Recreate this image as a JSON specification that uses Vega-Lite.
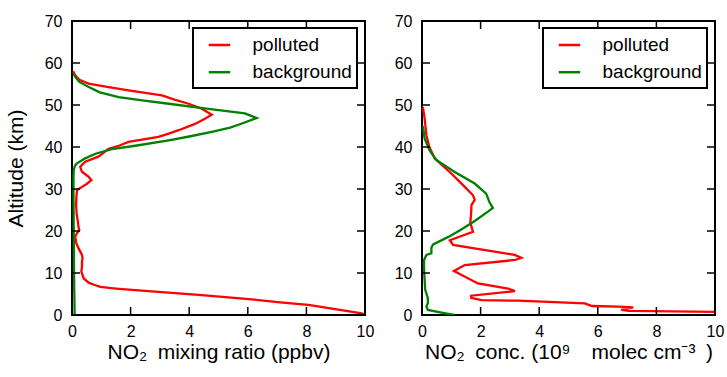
{
  "$schema": "https://vega.github.io/schema/vega-lite/v6.json",
  "padding": {"left": 4, "top": 12, "right": 2, "bottom": 5},
  "background": "white",
  "config": {
    "font": "Liberation Sans",
    "view": {"stroke": "black", "strokeWidth": 2},
    "axis": {
      "grid": false,
      "domain": false,
      "ticks": false,
      "labelFlush": false,
      "labelFontSize": 16,
      "labelColor": "black",
      "labelFont": "Liberation Sans",
      "titleFont": "Liberation Sans",
      "titleFontSize": 21,
      "titleFontWeight": "normal",
      "titleColor": "black"
    },
    "axisX": {"labelPadding": 8, "titlePadding": 2},
    "axisY": {"labelPadding": 10, "titlePadding": 18},
    "legend": {
      "orient": "none",
      "legendX": 121,
      "legendY": 7,
      "strokeColor": "black",
      "strokeWidth": 2,
      "fillColor": "white",
      "padding": 5,
      "labelFont": "Liberation Sans",
      "labelFontSize": 19,
      "labelColor": "black",
      "symbolType": "stroke",
      "symbolSize": 460,
      "symbolStrokeWidth": 2.5,
      "labelOffset": 21,
      "rowPadding": 5.2,
      "symbolOffset": 9.5
    }
  },
  "datasets": {
    "xticks": [{"v": 0}, {"v": 2}, {"v": 4}, {"v": 6}, {"v": 8}, {"v": 10}],
    "yticks": [{"v": 0}, {"v": 10}, {"v": 20}, {"v": 30}, {"v": 40}, {"v": 50}, {"v": 60}, {"v": 70}],
    "mix": [
      {"profile": "polluted", "alt": 0, "val": 10.0},
      {"profile": "polluted", "alt": 0.4, "val": 9.89},
      {"profile": "polluted", "alt": 2.4, "val": 8.07},
      {"profile": "polluted", "alt": 3.0, "val": 7.1},
      {"profile": "polluted", "alt": 3.7, "val": 6.14},
      {"profile": "polluted", "alt": 4.75, "val": 4.43},
      {"profile": "polluted", "alt": 5.9, "val": 2.16},
      {"profile": "polluted", "alt": 6.3, "val": 1.5},
      {"profile": "polluted", "alt": 6.7, "val": 0.97},
      {"profile": "polluted", "alt": 7.2, "val": 0.75},
      {"profile": "polluted", "alt": 7.7, "val": 0.57},
      {"profile": "polluted", "alt": 8.7, "val": 0.4},
      {"profile": "polluted", "alt": 10.3, "val": 0.32},
      {"profile": "polluted", "alt": 11.5, "val": 0.34},
      {"profile": "polluted", "alt": 12.7, "val": 0.34},
      {"profile": "polluted", "alt": 13.5, "val": 0.36},
      {"profile": "polluted", "alt": 14.3, "val": 0.34},
      {"profile": "polluted", "alt": 15.8, "val": 0.23},
      {"profile": "polluted", "alt": 17.0, "val": 0.15},
      {"profile": "polluted", "alt": 18.6, "val": 0.11},
      {"profile": "polluted", "alt": 19.5, "val": 0.17},
      {"profile": "polluted", "alt": 20.2, "val": 0.25},
      {"profile": "polluted", "alt": 21.0, "val": 0.22},
      {"profile": "polluted", "alt": 22.2, "val": 0.2},
      {"profile": "polluted", "alt": 24.0, "val": 0.16},
      {"profile": "polluted", "alt": 26.2, "val": 0.14},
      {"profile": "polluted", "alt": 28.0, "val": 0.15},
      {"profile": "polluted", "alt": 29.7, "val": 0.17},
      {"profile": "polluted", "alt": 30.5, "val": 0.34},
      {"profile": "polluted", "alt": 31.2, "val": 0.5},
      {"profile": "polluted", "alt": 32.1, "val": 0.66},
      {"profile": "polluted", "alt": 32.9, "val": 0.57},
      {"profile": "polluted", "alt": 34.1, "val": 0.34},
      {"profile": "polluted", "alt": 35.3, "val": 0.28},
      {"profile": "polluted", "alt": 36.5, "val": 0.45},
      {"profile": "polluted", "alt": 37.7, "val": 0.9},
      {"profile": "polluted", "alt": 38.5, "val": 1.05},
      {"profile": "polluted", "alt": 39.6, "val": 1.25},
      {"profile": "polluted", "alt": 40.3, "val": 1.6},
      {"profile": "polluted", "alt": 41.2, "val": 1.93},
      {"profile": "polluted", "alt": 42.4, "val": 2.95},
      {"profile": "polluted", "alt": 43.2, "val": 3.3},
      {"profile": "polluted", "alt": 44.0, "val": 3.64},
      {"profile": "polluted", "alt": 45.5, "val": 4.2},
      {"profile": "polluted", "alt": 46.8, "val": 4.55},
      {"profile": "polluted", "alt": 47.7, "val": 4.77},
      {"profile": "polluted", "alt": 48.4, "val": 4.6},
      {"profile": "polluted", "alt": 49.1, "val": 4.43},
      {"profile": "polluted", "alt": 50.3, "val": 3.98},
      {"profile": "polluted", "alt": 51.3, "val": 3.5},
      {"profile": "polluted", "alt": 52.3, "val": 3.07},
      {"profile": "polluted", "alt": 53.5, "val": 1.93},
      {"profile": "polluted", "alt": 54.3, "val": 1.2},
      {"profile": "polluted", "alt": 55.1, "val": 0.57},
      {"profile": "polluted", "alt": 56.0, "val": 0.25},
      {"profile": "polluted", "alt": 57.1, "val": 0.11},
      {"profile": "polluted", "alt": 58.0, "val": 0.04},
      {"profile": "background", "alt": 0, "val": 0.09},
      {"profile": "background", "alt": 5, "val": 0.08},
      {"profile": "background", "alt": 10, "val": 0.07},
      {"profile": "background", "alt": 20, "val": 0.06},
      {"profile": "background", "alt": 30, "val": 0.05},
      {"profile": "background", "alt": 33, "val": 0.05},
      {"profile": "background", "alt": 34.6, "val": 0.06},
      {"profile": "background", "alt": 35.5, "val": 0.1},
      {"profile": "background", "alt": 36.1, "val": 0.17},
      {"profile": "background", "alt": 37.3, "val": 0.45},
      {"profile": "background", "alt": 38.4, "val": 0.8},
      {"profile": "background", "alt": 39.5, "val": 1.36},
      {"profile": "background", "alt": 40.3, "val": 2.16},
      {"profile": "background", "alt": 41.6, "val": 3.3},
      {"profile": "background", "alt": 42.5, "val": 4.0},
      {"profile": "background", "alt": 43.6, "val": 4.77},
      {"profile": "background", "alt": 44.6, "val": 5.4},
      {"profile": "background", "alt": 45.6, "val": 5.8},
      {"profile": "background", "alt": 46.9, "val": 6.3},
      {"profile": "background", "alt": 48.0, "val": 5.9},
      {"profile": "background", "alt": 49.1, "val": 4.66},
      {"profile": "background", "alt": 50.3, "val": 3.3},
      {"profile": "background", "alt": 51.1, "val": 2.4},
      {"profile": "background", "alt": 51.9, "val": 1.59},
      {"profile": "background", "alt": 53.0, "val": 0.95},
      {"profile": "background", "alt": 54.3, "val": 0.57},
      {"profile": "background", "alt": 55.5, "val": 0.25},
      {"profile": "background", "alt": 56.7, "val": 0.11},
      {"profile": "background", "alt": 57.5, "val": 0.05}
    ],
    "conc": [
      {"profile": "polluted", "alt": 0.75, "val": 10.0},
      {"profile": "polluted", "alt": 1.0, "val": 7.05},
      {"profile": "polluted", "alt": 1.2, "val": 6.8},
      {"profile": "polluted", "alt": 1.8, "val": 7.21},
      {"profile": "polluted", "alt": 1.97, "val": 6.7},
      {"profile": "polluted", "alt": 2.14, "val": 5.8},
      {"profile": "polluted", "alt": 2.77, "val": 5.56},
      {"profile": "polluted", "alt": 3.4, "val": 3.28},
      {"profile": "polluted", "alt": 3.56, "val": 2.03},
      {"profile": "polluted", "alt": 4.1, "val": 1.68},
      {"profile": "polluted", "alt": 4.6, "val": 1.68},
      {"profile": "polluted", "alt": 5.7, "val": 3.17},
      {"profile": "polluted", "alt": 6.3, "val": 2.94},
      {"profile": "polluted", "alt": 7.5, "val": 1.91},
      {"profile": "polluted", "alt": 10.5, "val": 1.09},
      {"profile": "polluted", "alt": 11.9, "val": 1.46},
      {"profile": "polluted", "alt": 13.1, "val": 3.17},
      {"profile": "polluted", "alt": 13.6, "val": 3.39},
      {"profile": "polluted", "alt": 14.3, "val": 3.17},
      {"profile": "polluted", "alt": 16.7, "val": 1.06},
      {"profile": "polluted", "alt": 17.8, "val": 0.95},
      {"profile": "polluted", "alt": 19.8, "val": 1.74},
      {"profile": "polluted", "alt": 22.0, "val": 1.65},
      {"profile": "polluted", "alt": 24.6, "val": 1.68},
      {"profile": "polluted", "alt": 26.2, "val": 1.69},
      {"profile": "polluted", "alt": 27.4, "val": 1.8},
      {"profile": "polluted", "alt": 28.5, "val": 1.74},
      {"profile": "polluted", "alt": 30.5, "val": 1.46},
      {"profile": "polluted", "alt": 33.7, "val": 1.0},
      {"profile": "polluted", "alt": 37.3, "val": 0.43},
      {"profile": "polluted", "alt": 40.0, "val": 0.25},
      {"profile": "polluted", "alt": 42.8, "val": 0.15},
      {"profile": "polluted", "alt": 46.8, "val": 0.09},
      {"profile": "polluted", "alt": 49.5, "val": 0.03},
      {"profile": "background", "alt": 0, "val": 1.12},
      {"profile": "background", "alt": 0.4, "val": 0.8},
      {"profile": "background", "alt": 1.2, "val": 0.2},
      {"profile": "background", "alt": 2.0, "val": 0.15},
      {"profile": "background", "alt": 2.8, "val": 0.2},
      {"profile": "background", "alt": 4.0, "val": 0.2},
      {"profile": "background", "alt": 6.0, "val": 0.11},
      {"profile": "background", "alt": 8.3, "val": 0.09},
      {"profile": "background", "alt": 11.1, "val": 0.07},
      {"profile": "background", "alt": 13.1, "val": 0.07},
      {"profile": "background", "alt": 14.3, "val": 0.15},
      {"profile": "background", "alt": 14.7, "val": 0.32},
      {"profile": "background", "alt": 16.0, "val": 0.32},
      {"profile": "background", "alt": 16.8, "val": 0.38},
      {"profile": "background", "alt": 18.6, "val": 0.9},
      {"profile": "background", "alt": 20.2, "val": 1.3},
      {"profile": "background", "alt": 22.4, "val": 1.8},
      {"profile": "background", "alt": 24.6, "val": 2.25},
      {"profile": "background", "alt": 25.5, "val": 2.42},
      {"profile": "background", "alt": 26.9, "val": 2.3},
      {"profile": "background", "alt": 28.9, "val": 2.19},
      {"profile": "background", "alt": 31.3, "val": 1.8},
      {"profile": "background", "alt": 34.1, "val": 1.1},
      {"profile": "background", "alt": 36.9, "val": 0.49},
      {"profile": "background", "alt": 39.2, "val": 0.26},
      {"profile": "background", "alt": 42.0, "val": 0.09},
      {"profile": "background", "alt": 45.0, "val": 0.03}
    ]
  },
  "hconcat": [
    {
      "width": 293,
      "height": 294,
      "encoding": {
        "x": {"type": "quantitative", "scale": {"domain": [0, 10]},
              "axis": {"orient": "bottom", "values": [0, 2, 4, 6, 8, 10], "title": "NO₂\u2002mixing ratio (ppbv)"}},
        "y": {"type": "quantitative", "scale": {"domain": [0, 70]},
              "axis": {"orient": "left", "values": [0, 10, 20, 30, 40, 50, 60, 70], "title": "Altitude (km)"}}
      },
      "layer": [
        {
          "data": {"name": "mix"},
          "mark": {"type": "line", "strokeWidth": 2.3, "clip": true},
          "encoding": {
            "x": {"field": "val", "type": "quantitative"},
            "y": {"field": "alt", "type": "quantitative"},
            "color": {"field": "profile", "type": "nominal",
                      "scale": {"domain": ["polluted", "background"], "range": ["#ff0000", "#008000"]},
                      "legend": {"title": null}},
            "order": {"field": "alt", "type": "quantitative"}
          }
        },
        {
          "data": {"name": "xticks"},
          "mark": {"type": "tick", "orient": "vertical", "size": 8, "thickness": 1.5, "color": "#000000", "opacity": 1, "yOffset": -4},
          "encoding": {"x": {"field": "v", "type": "quantitative"}, "y": {"datum": 0}}
        },
        {
          "data": {"name": "xticks"},
          "mark": {"type": "tick", "orient": "vertical", "size": 8, "thickness": 1.5, "color": "#000000", "opacity": 1, "yOffset": 4},
          "encoding": {"x": {"field": "v", "type": "quantitative"}, "y": {"datum": 70}}
        },
        {
          "data": {"name": "yticks"},
          "mark": {"type": "tick", "orient": "horizontal", "size": 8, "thickness": 1.5, "color": "#000000", "opacity": 1, "xOffset": 4},
          "encoding": {"y": {"field": "v", "type": "quantitative"}, "x": {"datum": 0}}
        },
        {
          "data": {"name": "yticks"},
          "mark": {"type": "tick", "orient": "horizontal", "size": 8, "thickness": 1.5, "color": "#000000", "opacity": 1, "xOffset": -4},
          "encoding": {"y": {"field": "v", "type": "quantitative"}, "x": {"datum": 10}}
        }
      ]
    },
    {
      "width": 293,
      "height": 294,
      "encoding": {
        "x": {"type": "quantitative", "scale": {"domain": [0, 10]},
              "axis": {"orient": "bottom", "values": [0, 2, 4, 6, 8, 10], "title": "NO₂\u2002conc. (10⁹\u2003molec cm⁻³\u2002)"}},
        "y": {"type": "quantitative", "scale": {"domain": [0, 70]},
              "axis": {"orient": "left", "values": [0, 10, 20, 30, 40, 50, 60, 70], "title": null}}
      },
      "layer": [
        {
          "data": {"name": "conc"},
          "mark": {"type": "line", "strokeWidth": 2.3, "clip": true},
          "encoding": {
            "x": {"field": "val", "type": "quantitative"},
            "y": {"field": "alt", "type": "quantitative"},
            "color": {"field": "profile", "type": "nominal",
                      "scale": {"domain": ["polluted", "background"], "range": ["#ff0000", "#008000"]},
                      "legend": {"title": null}},
            "order": {"field": "alt", "type": "quantitative"}
          }
        },
        {
          "data": {"name": "xticks"},
          "mark": {"type": "tick", "orient": "vertical", "size": 8, "thickness": 1.5, "color": "#000000", "opacity": 1, "yOffset": -4},
          "encoding": {"x": {"field": "v", "type": "quantitative"}, "y": {"datum": 0}}
        },
        {
          "data": {"name": "xticks"},
          "mark": {"type": "tick", "orient": "vertical", "size": 8, "thickness": 1.5, "color": "#000000", "opacity": 1, "yOffset": 4},
          "encoding": {"x": {"field": "v", "type": "quantitative"}, "y": {"datum": 70}}
        },
        {
          "data": {"name": "yticks"},
          "mark": {"type": "tick", "orient": "horizontal", "size": 8, "thickness": 1.5, "color": "#000000", "opacity": 1, "xOffset": 4},
          "encoding": {"y": {"field": "v", "type": "quantitative"}, "x": {"datum": 0}}
        },
        {
          "data": {"name": "yticks"},
          "mark": {"type": "tick", "orient": "horizontal", "size": 8, "thickness": 1.5, "color": "#000000", "opacity": 1, "xOffset": -4},
          "encoding": {"y": {"field": "v", "type": "quantitative"}, "x": {"datum": 10}}
        }
      ]
    }
  ],
  "spacing": 57,
  "bounds": "flush",
  "resolve": {"scale": {"color": "independent"}, "legend": {"color": "independent"}}
}
